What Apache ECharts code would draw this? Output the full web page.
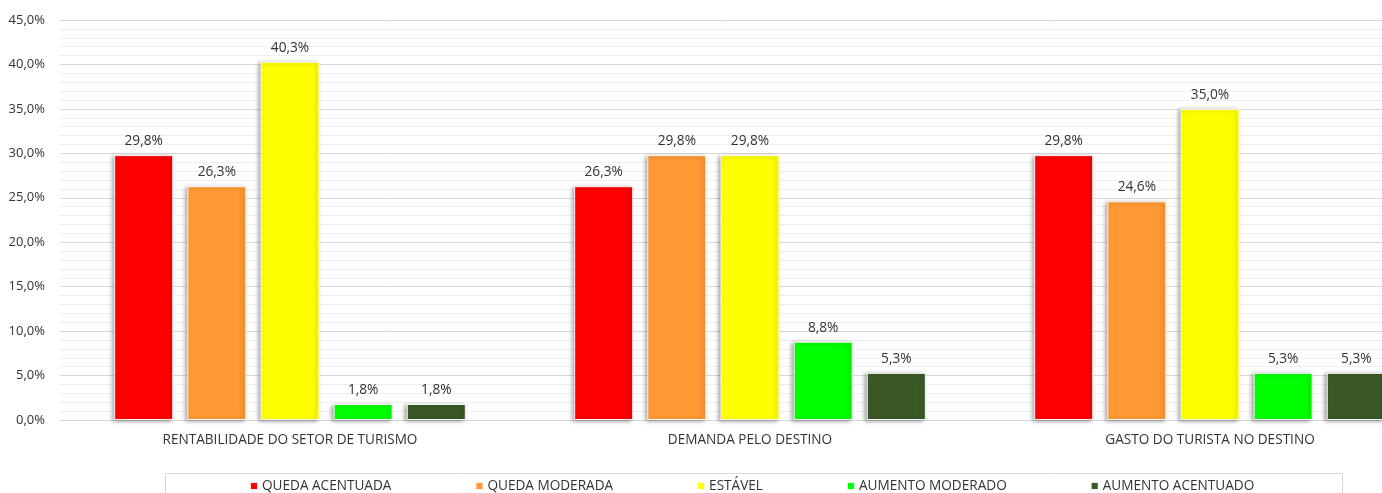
<!DOCTYPE html>
<html>
<head>
<meta charset="utf-8">
<script src="https://cdn.jsdelivr.net/npm/echarts@6/dist/echarts.min.js"></script>
<style>
  html, body { margin: 0; padding: 0; background: #fff; }
  #chart { width: 1382px; height: 493px; }
</style>
</head>
<body>
<div id="chart"></div>
<script>
// categorias (eixo x)
const categories = ['RENTABILIDADE DO SETOR DE TURISMO', 'DEMANDA PELO DESTINO', 'GASTO DO TURISTA NO DESTINO'];
// séries (%)
const seriesNames = ['QUEDA ACENTUADA', 'QUEDA MODERADA', 'ESTÁVEL', 'AUMENTO MODERADO', 'AUMENTO ACENTUADO'];
const quedaAcentuada   = [29.8, 26.3, 29.8];
const quedaModerada    = [26.3, 29.8, 24.6];
const estavel          = [40.3, 29.8, 35.0];
const aumentoModerado  = [1.8, 8.8, 5.3];
const aumentoAcentuado = [1.8, 5.3, 5.3];
const seriesValues = [quedaAcentuada, quedaModerada, estavel, aumentoModerado, aumentoAcentuado];
const seriesColors = ['#ff0000', '#ff9933', '#ffff00', '#00ff00', '#3a5927'];

const TEXT = '#333333';
const FONT = "'Open Sans', 'Noto Sans', sans-serif";

// 45.0 -> "45,0%"
function pct(v) {
  return Number(v).toFixed(1).replace('.', ',') + '%';
}

const chart = echarts.init(document.getElementById('chart'));

const series = seriesNames.map((name, i) => ({
  name,
  type: 'bar',
  data: seriesValues[i],
  barWidth: 59,
  barGap: '24%',
  itemStyle: {
    color: seriesColors[i],
    borderColor: 'rgba(255,255,255,0.9)',
    borderWidth: 1,
    shadowBlur: 4,
    shadowOffsetX: -2,
    shadowOffsetY: 1,
    shadowColor: 'rgba(0,0,0,0.35)',
  },
  label: {
    show: true,
    position: 'top',
    distance: 7,
    color: TEXT,
    fontSize: 13.7,
    fontFamily: FONT,
    formatter: (p) => pct(p.value),
  },
}));

chart.setOption({
  animation: false,
  backgroundColor: '#fff',
  textStyle: { fontFamily: FONT, color: TEXT },
  // o gráfico original está cortado à direita: a grade passa da borda
  grid: { left: 60, width: 1380, top: 20, bottom: 73, outerBoundsMode: 'none' },
  legend: {
    data: seriesNames,
    left: 244,
    top: 474,
    itemWidth: 8,
    itemHeight: 8,
    itemGap: 83,
    icon: 'rect',
    textStyle: { color: TEXT, fontSize: 13.6, fontFamily: FONT, padding: [0, 0, 0, -1] },
  },
  graphic: [{
    type: 'rect',
    left: 163,
    top: 471,
    shape: { width: 1177, height: 40 },
    style: { fill: 'none', stroke: '#d9d9d9', lineWidth: 1 },
    silent: true,
  }],
  xAxis: {
    type: 'category',
    data: categories,
    axisLine: { lineStyle: { color: '#d9d9d9' } },
    axisTick: { show: false },
    axisLabel: { color: TEXT, fontSize: 13.6, fontFamily: FONT, margin: 13 },
  },
  yAxis: {
    type: 'value',
    min: 0,
    max: 45,
    interval: 5,
    axisLine: { show: false },
    axisTick: { show: false },
    axisLabel: { color: TEXT, fontSize: 13, fontFamily: FONT, margin: 15, formatter: pct },
    splitLine: { lineStyle: { color: '#d9d9d9', width: 1 } },
    minorTick: { show: false, splitNumber: 5 },
    minorSplitLine: { show: true, lineStyle: { color: '#efefef', width: 1 } },
  },
  series,
});
</script>
</body>
</html>
